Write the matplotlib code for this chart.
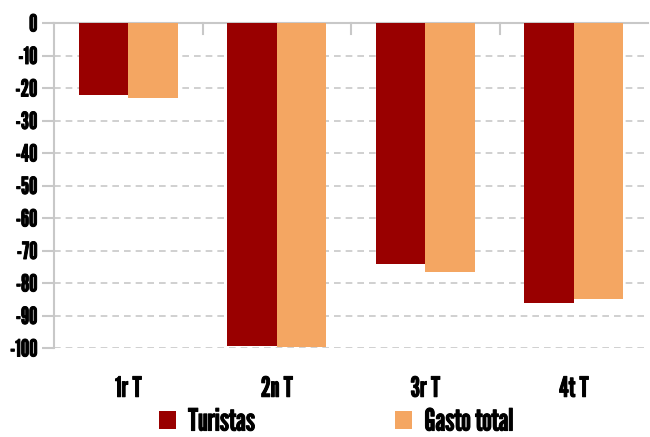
import matplotlib
matplotlib.use("Agg")
import matplotlib.pyplot as plt
import matplotlib.patheffects as pe
import numpy as np
from matplotlib.patches import Patch

categories = ["1r T", "2n T", "3r T", "4t T"]
turistas = [-22, -99.5, -74, -86]
gasto_total = [-23, -99.8, -76.5, -85]
series_names = ["Turistas", "Gasto total"]
yticks = list(range(0, -101, -10))

FONT = ['League Gothic', 'Oswald', 'DejaVu Sans']
plt.rcParams['font.family'] = FONT
bold = [pe.withStroke(linewidth=0.7, foreground='black')]

fig = plt.figure(figsize=(6.5, 4.37), dpi=100)
ax = fig.add_axes([54/650, 1-348/437, (648-54)/650, (348-23)/437])

x = np.arange(len(categories))
w = 1/3
c1 = '#990000'
c2 = '#F4A662'
ax.bar(x - w/2, turistas, width=w, color=c1, zorder=3)
ax.bar(x + w/2, gasto_total, width=w, color=c2, zorder=3)

ax.set_xlim(-0.5, len(categories) - 0.5)
ax.set_ylim(-100, 0)
ax.set_yticks(yticks)
ax.set_yticklabels([str(v) for v in yticks], fontsize=17)
ax.yaxis.grid(True, linestyle=(0, (4, 3)), color='#c8c8c8', linewidth=1.2, zorder=0)

ax.set_xticks(x)
ax.set_xticklabels(categories, fontsize=20)
ax.tick_params(axis='x', length=0, pad=20)
for b in np.arange(1, len(categories)) - 0.5:
    ax.plot([b, b], [0, -3.3], color='#c8c8c8', linewidth=1.5, zorder=2, clip_on=False)

ax.tick_params(axis='y', length=9, color='#c8c8c8', width=1.5, pad=3)
for t in ax.get_xticklabels() + ax.get_yticklabels():
    t.set_path_effects(bold)
for s in ['right', 'bottom']:
    ax.spines[s].set_visible(False)
ax.spines['top'].set_color('#c8c8c8')
ax.spines['top'].set_linewidth(1.5)
ax.spines['left'].set_color('#c8c8c8')
ax.spines['left'].set_linewidth(1.5)

handles = [Patch(facecolor=c1, edgecolor='none'), Patch(facecolor=c2, edgecolor='none')]
leg = fig.legend(handles, series_names, loc='lower center', bbox_to_anchor=(0.517, -0.062),
                 ncol=2, frameon=False, handlelength=0.55, handleheight=0.55,
                 columnspacing=4.6, handletextpad=0.4, prop={'family': FONT, 'size': 22})
for t in leg.get_texts():
    t.set_path_effects(bold)

fig.savefig("out.png", dpi=100)
